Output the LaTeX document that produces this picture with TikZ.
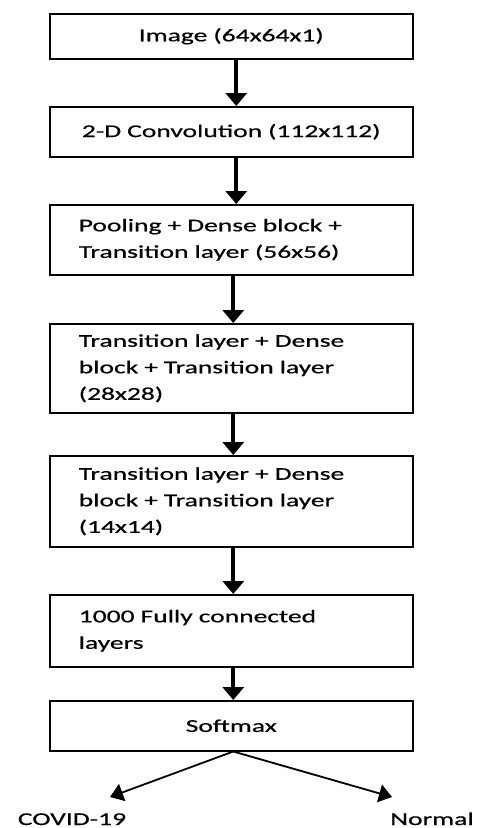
\documentclass[tikz,border=0pt]{standalone}
\usepackage{fontspec}
\setmainfont{Carlito}[FakeStretch=1.53,FakeBold=0.6]
\usetikzlibrary{arrows.meta}
\begin{document}
\begin{tikzpicture}[x=1pt,y=-1pt,
  font=\fontsize{18}{26.5}\selectfont,
  box/.style={draw=black, line width=1.5pt, minimum width=363pt, text width=305pt,
    inner xsep=29pt, inner ysep=0pt, anchor=north west},
  lbox/.style={box, align=left},
  cbox/.style={box, align=center},
  flow/.style={line width=3.8pt, -{Triangle[width=21pt,length=13pt]}},
  split/.style={line width=1.8pt, -{Triangle[width=18pt,length=13pt]}},
  lab/.style={inner sep=0pt, anchor=base}]
\useasboundingbox (0,0) rectangle (480,828);
\node[cbox, minimum height=45pt] (img) at (49,13) {Image (64x64x1)};
\node[cbox, minimum height=50pt] (conv) at (49,106) {2-D Convolution (112x112)};
\node[lbox, minimum height=70pt] (pool) at (49,204) {Pooling + Dense block +\\Transition layer (56x56)};
\node[lbox, minimum height=89pt] (tr1) at (49,323) {Transition layer + Dense\\block + Transition layer\\(28x28)};
\node[lbox, minimum height=91pt] (tr2) at (49,455) {Transition layer + Dense\\block + Transition layer\\(14x14)};
\node[lbox, minimum height=72pt] (fc) at (49,594) {1000 Fully connected\\layers};
\node[cbox, minimum height=50pt] (soft) at (49,700) {Softmax};
\node[lab] (covid) at (72,825) {COVID-19};
\node[lab] (normal) at (432,825) {Normal};
\coordinate (cl) at (110,797);
\coordinate (nr) at (392,797);
\draw[flow] ([xshift=5pt]img.south) -- ([xshift=5pt]conv.north);
\draw[flow] ([xshift=5pt]conv.south) -- ([xshift=5pt]pool.north);
\draw[flow] ([xshift=2pt]pool.south) -- ([xshift=2pt]tr1.north);
\draw[flow] ([xshift=2pt]tr1.south) -- ([xshift=2pt]tr2.north);
\draw[flow] ([xshift=2pt]tr2.south) -- ([xshift=2pt]fc.north);
\draw[flow] ([xshift=2pt]fc.south) -- ([xshift=2pt]soft.north);
\draw[split] ([xshift=2pt]soft.south) -- (cl);
\draw[split] ([xshift=2pt]soft.south) -- (nr);
\end{tikzpicture}
\end{document}
